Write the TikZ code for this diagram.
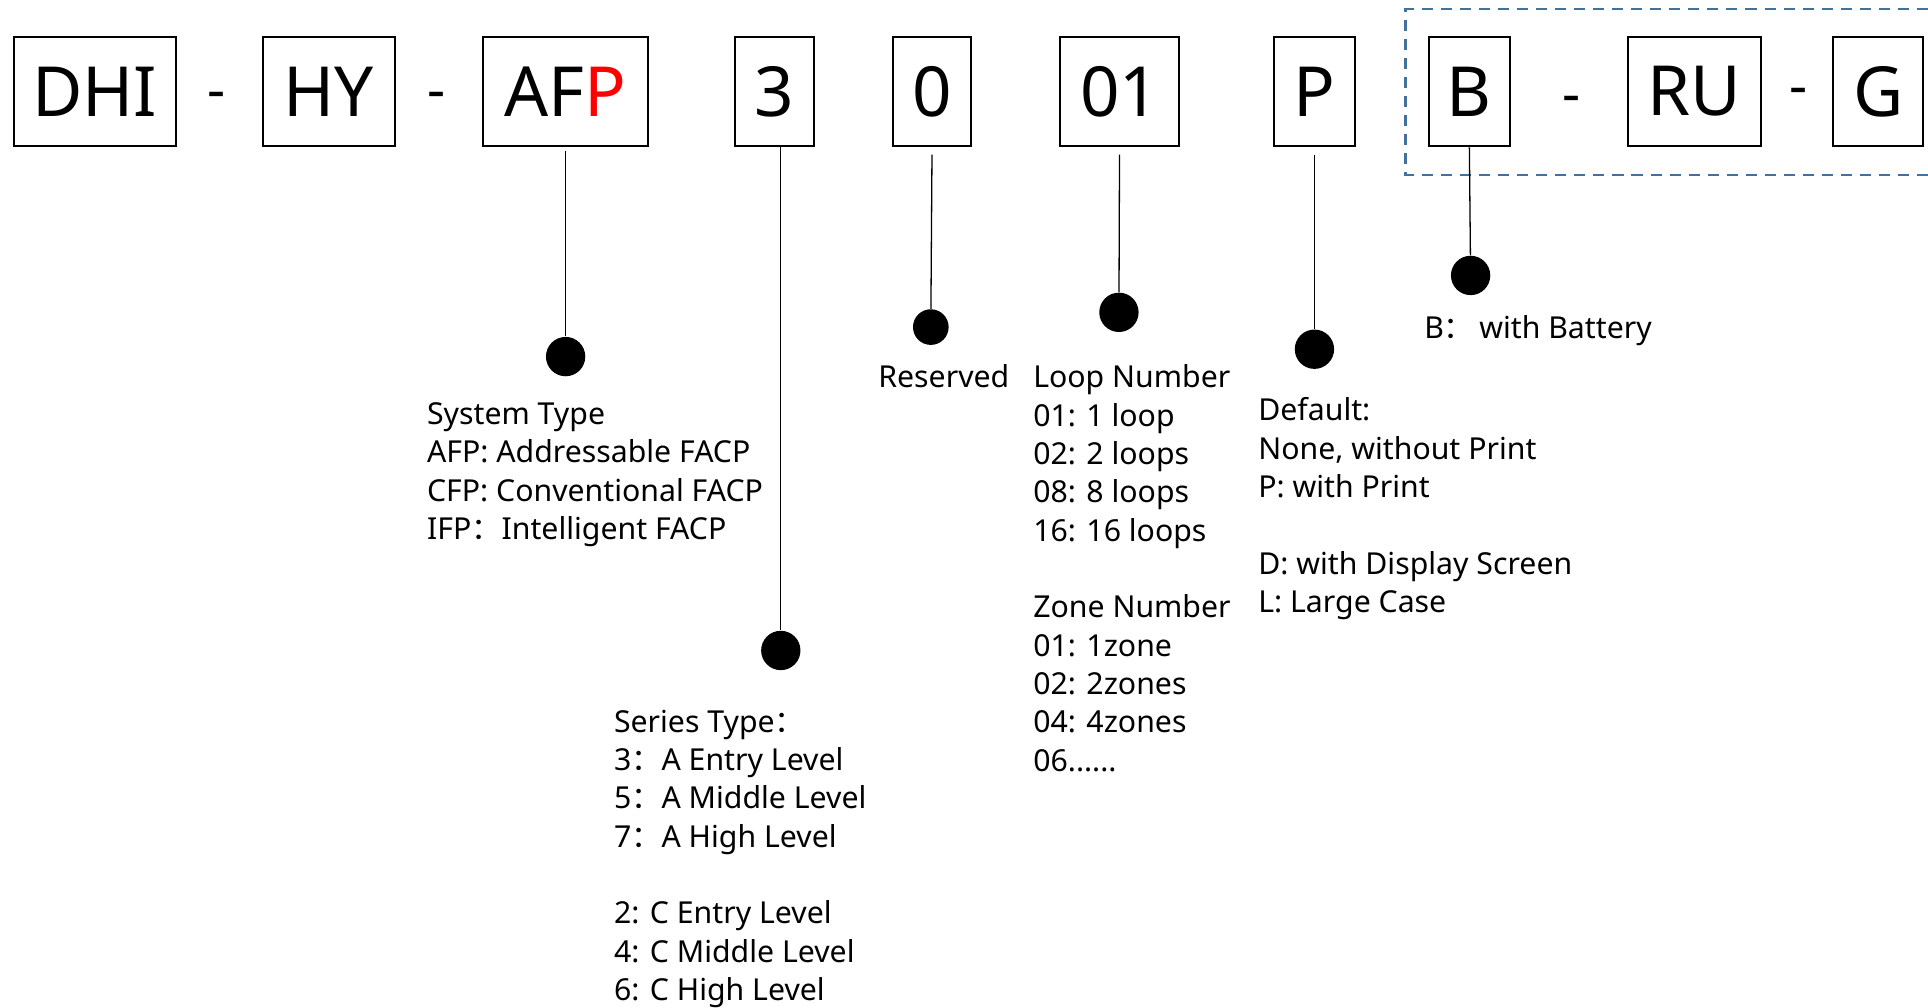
\documentclass[tikz,border=0pt]{standalone}
\usepackage{fontspec}
\setmainfont{Noto Sans}
\newfontfamily\cjkfont{Noto Sans CJK SC}
\usetikzlibrary{calc}
\definecolor{frameblue}{RGB}{65,113,156}
\newcommand{\fwcolon}{{\cjkfont ：}}
\newcommand{\topstrut}{\rule{0pt}{0.4cm}}

\begin{document}
\begin{tikzpicture}[x=0.02cm, y=-0.02cm,
    codebox/.style={draw, line width=0.9pt, inner sep=0pt, minimum height=1.78cm, font=\fontsize{32}{32}\selectfont},
    joint/.style={anchor=base, inner sep=0pt, font=\fontsize{26}{26}\selectfont},
    pin/.style={circle, fill=black, inner sep=0pt, minimum size=0.64cm},
    note/.style={anchor=north west, align=left, inner sep=0pt, font=\fontsize{14}{17.75}\selectfont},
    stem/.style={line width=0.6pt}]
      \useasboundingbox (0,0) rectangle (1568,819);

      % 1. 型號各段的方框
      \node[codebox, minimum width=2.64cm] (box_DHI) at (77,74.5) {DHI};
      \node[codebox, minimum width=2.14cm] (box_HY) at (267.5,74.5) {HY};
      \node[codebox, minimum width=2.68cm] (box_AFP) at (460,74.5) {AF\textcolor{red}{P}};
      \node[codebox, minimum width=1.28cm] (box_Series) at (630,74.5) {3};
      \node[codebox, minimum width=1.28cm] (box_Res) at (758,74.5) {0};
      \node[codebox, minimum width=1.94cm] (box_Loop) at (910.5,74.5) {01};
      \node[codebox, minimum width=1.32cm] (box_Print) at (1069,74.5) {P};
      \node[codebox, minimum width=1.32cm] (box_Batt) at (1195,74.5) {B};
      \node[codebox, minimum width=2.16cm] (box_RU) at (1378,74.5) {RU};
      \node[codebox, minimum width=1.46cm] (box_G) at (1527.5,74.5) {G};

      % 2. 方框之間的連字號
      \node[joint] (dash_1) at (176,89) {-};
      \node[joint] (dash_2) at (355,89) {-};
      \node[joint] (dash_3) at (1278,92) {-};
      \node[joint] (dash_4) at (1463,86) {-};

      % 3. 選配部分的虛線框
      \draw[frameblue, line width=1pt, dash pattern=on 0.18cm off 0.13cm]
        (1568,7) -| (1143,142) -- (1568,142);

      % 4. 各段下方的圓點
      \node[pin] (dot_AFP) at (460,290) {};
      \node[pin] (dot_Series) at (635,529) {};
      \node[pin, minimum size=0.58cm] (dot_Res) at (757,266) {};
      \node[pin] (dot_Loop) at (910,254) {};
      \node[pin] (dot_Print) at (1069,284) {};
      \node[pin] (dot_Batt) at (1196,224) {};

      % 5. 方框到圓點的引線
      \draw[stem, shorten <=0.06cm] (box_AFP.south) -- (dot_AFP);
      \draw[stem] (dot_Series |- box_Series.south) -- (dot_Series);
      \draw[stem, shorten <=0.12cm] (box_Res.south) -- (dot_Res);
      \draw[stem, shorten <=0.12cm] (box_Loop.south) -- (dot_Loop);
      \draw[stem, shorten <=0.12cm] (box_Print.south) -- (dot_Print);
      \draw[stem] (box_Batt.south) -- (dot_Batt);

      % 6. 說明文字
      \node[note] (txt_AFP) at (347,325) {\topstrut System Type\\AFP: Addressable FACP\\CFP: Conventional FACP\\IFP\fwcolon Intelligent FACP};
      \node[note] (txt_Series) at (499,575) {\topstrut Series Type\fwcolon\\3\fwcolon A Entry Level\\5\fwcolon A Middle Level\\7\fwcolon A High Level\\[17.75pt]2: C Entry Level\\4: C Middle Level\\6: C High Level};
      \node[note] (txt_Res) at (714,295) {\topstrut Reserved};
      \node[note] (txt_Loop) at (840,295) {\topstrut Loop Number\\01: 1 loop\\02: 2 loops\\08: 8 loops\\16: 16 loops\\[17.75pt]Zone Number\\01: 1zone\\02: 2zones\\04: 4zones\\06......};
      \node[note] (txt_Print) at (1023,322) {\topstrut Default:\\None, without Print\\P: with Print\\[17.75pt]D: with Display Screen\\L: Large Case};
      \node[note] (txt_Batt) at (1158,255) {\topstrut B\fwcolon\,with Battery};
\end{tikzpicture}
\end{document}
